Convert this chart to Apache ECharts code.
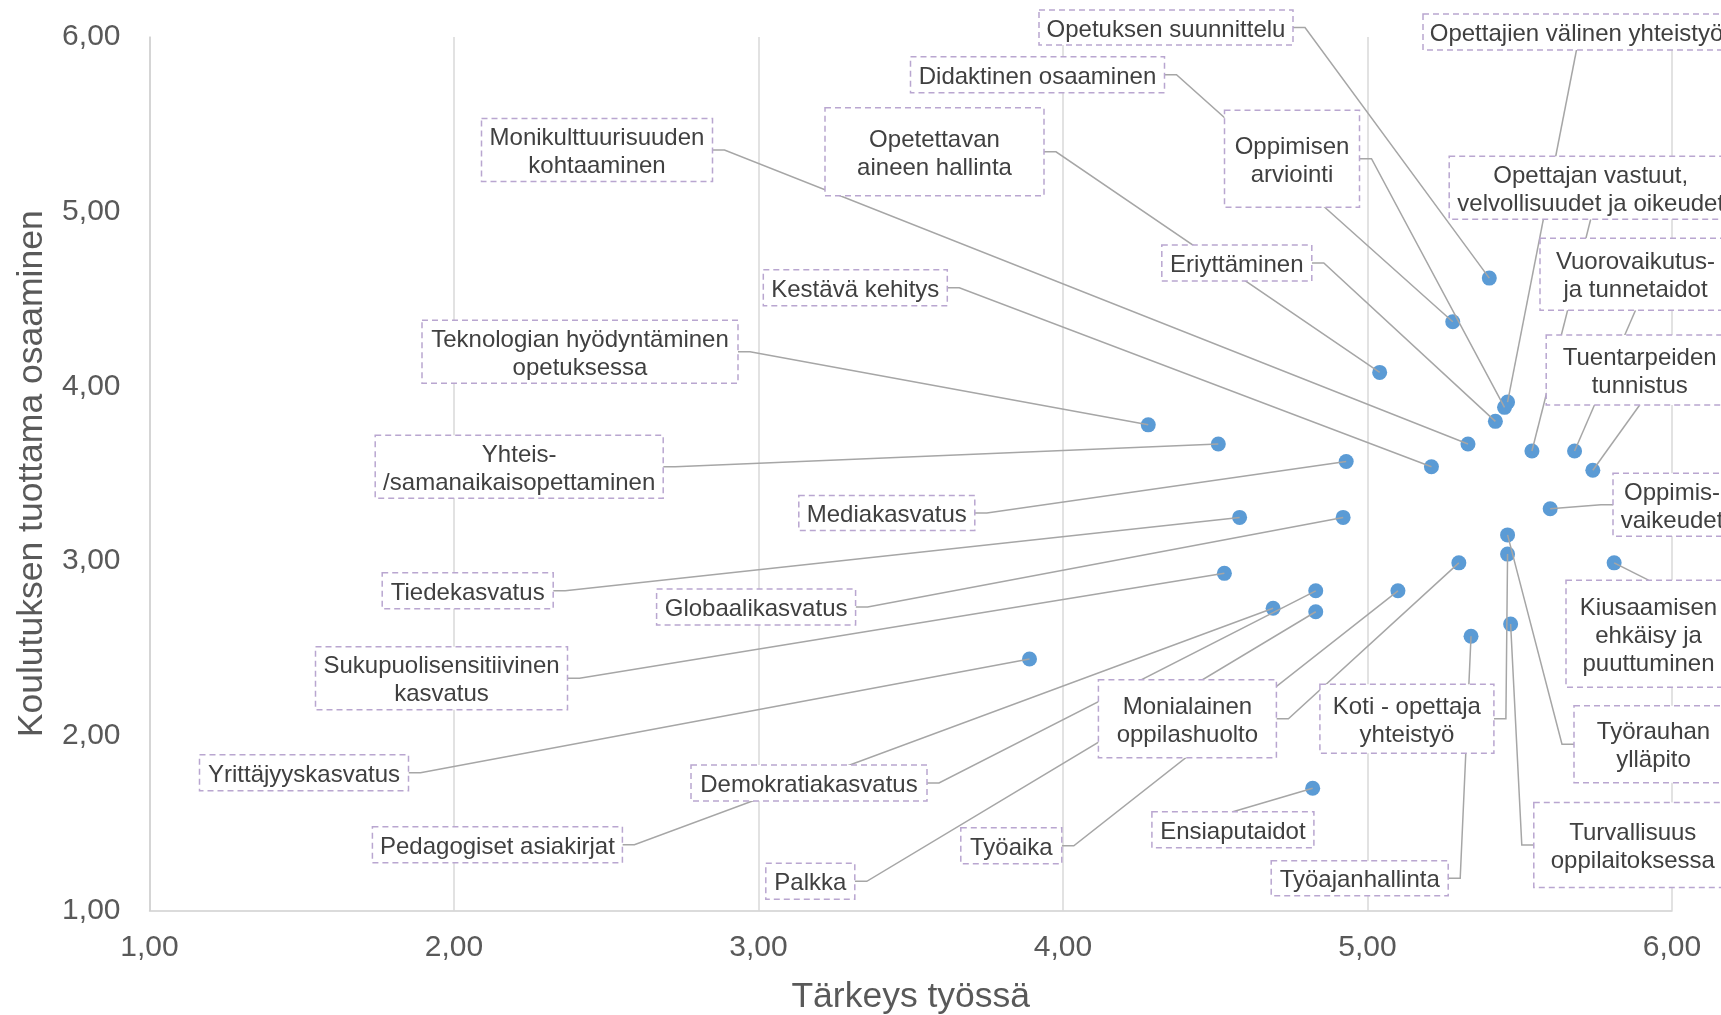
<!DOCTYPE html>
<html>
<head>
<meta charset="utf-8">
<script src="https://cdn.jsdelivr.net/npm/echarts@6/dist/echarts.min.js"></script>
<style>
html,body{margin:0;padding:0;background:#fff;}
#chart{width:1721px;height:1015px;}
</style>
</head>
<body>
<div id="chart"></div>
<script>
// ---- data ----
const categories = [
  'Opetuksen suunnittelu',
  'Opettajien välinen yhteistyö',
  'Didaktinen osaaminen',
  'Monikulttuurisuuden\nkohtaaminen',
  'Opetettavan\naineen hallinta',
  'Oppimisen\narviointi',
  'Opettajan vastuut,\nvelvollisuudet ja oikeudet',
  'Eriyttäminen',
  'Vuorovaikutus-\nja tunnetaidot',
  'Kestävä kehitys',
  'Teknologian hyödyntäminen\nopetuksessa',
  'Tuentarpeiden\ntunnistus',
  'Yhteis-\n/samanaikaisopettaminen',
  'Mediakasvatus',
  'Oppimis-\nvaikeudet',
  'Tiedekasvatus',
  'Globaalikasvatus',
  'Kiusaamisen\nehkäisy ja\npuuttuminen',
  'Sukupuolisensitiivinen\nkasvatus',
  'Monialainen\noppilashuolto',
  'Koti - opettaja\nyhteistyö',
  'Työrauhan\nylläpito',
  'Yrittäjyyskasvatus',
  'Demokratiakasvatus',
  'Pedagogiset asiakirjat',
  'Työaika',
  'Palkka',
  'Ensiaputaidot',
  'Turvallisuus\noppilaitoksessa',
  'Työajanhallinta'
];
// Tärkeys työssä
const importance = [5.40, 5.46, 5.28, 5.33, 5.04, 5.45, 5.54, 5.42, 5.68, 5.21,
                    4.28, 5.74, 4.51, 4.93, 5.60, 4.58, 4.92, 5.81, 4.53, 5.30,
                    5.46, 5.46, 3.89, 4.83, 4.69, 5.10, 4.83, 4.82, 5.47, 5.34];
// Koulutuksen tuottama osaaminen
const competence = [4.62, 3.91, 4.37, 3.67, 4.08, 3.88, 3.63, 3.80, 3.63, 3.54,
                    3.78, 3.52, 3.67, 3.57, 3.30, 3.25, 3.25, 2.99, 2.93, 2.99,
                    3.04, 3.15, 2.44, 2.83, 2.73, 2.83, 2.71, 1.70, 2.64, 2.57];
const xTicks = [1, 2, 3, 4, 5, 6];
const yTicks = [1, 2, 3, 4, 5, 6];

// ---- label box layout (pixel centre x, centre y, width, height) ----
const labelBoxes = [
  [1166, 27.5, 254, 35], [1576.5, 32, 307, 36], [1037.5, 74.7, 254, 36],
  [597, 150, 231, 63], [934.5, 151.8, 219, 88], [1292, 158.7, 135, 97],
  [1590.7, 187.7, 283, 63], [1236.8, 263, 150, 36], [1635.5, 274.2, 191, 72],
  [855.3, 287.8, 184, 36], [580, 351.7, 316, 63], [1639.7, 370, 187, 70],
  [519.2, 466.7, 288, 63], [886.8, 513, 176, 35], [1672, 504.7, 118, 63],
  [467.7, 590.8, 171, 36], [756.1, 607, 199, 36], [1648.5, 633.7, 165, 107],
  [441.5, 678.3, 252, 63], [1187.4, 718.8, 178, 78], [1406.9, 718.7, 174, 69],
  [1653.5, 744.2, 159, 77], [304, 772.8, 209, 36], [809, 783, 236, 36],
  [497.4, 844.7, 250, 36], [1011.3, 845.8, 101, 36], [810.3, 881.3, 89, 36],
  [1232.9, 829.7, 162, 36], [1632.8, 845, 198, 85], [1359.7, 878.3, 177, 35]
];

const points = importance.map((x, i) => [x, competence[i]]);
const fmt = v => v.toFixed(2).replace('.', ',');
const FONT = '"Liberation Sans", Arial, sans-serif';

const chart = echarts.init(document.getElementById('chart'), null, {renderer: 'canvas'});

chart.setOption({
  backgroundColor: '#ffffff',
  animation: false,
  grid: {left: 149.5, right: 49, top: 37, bottom: 104.5, containLabel: false, outerBoundsMode: 'none'},
  xAxis: {
    type: 'value', min: xTicks[0], max: xTicks[xTicks.length - 1], interval: 1,
    name: 'Tärkeys työssä', nameLocation: 'middle', nameGap: 69,
    nameTextStyle: {fontSize: 35.5, color: '#595959', fontFamily: FONT},
    axisLine: {show: true, lineStyle: {color: '#d0d0d0', width: 1.5}},
    axisTick: {show: false},
    axisLabel: {formatter: fmt, fontSize: 30, color: '#595959', fontFamily: FONT, margin: 22},
    splitLine: {show: true, lineStyle: {color: '#d9d9d9', width: 1.5}}
  },
  yAxis: {
    type: 'value', min: yTicks[0], max: yTicks[yTicks.length - 1], interval: 1,
    name: 'Koulutuksen tuottama osaaminen', nameLocation: 'middle', nameGap: 99,
    nameTextStyle: {fontSize: 35.5, color: '#595959', fontFamily: FONT},
    axisLine: {show: true, lineStyle: {color: '#d0d0d0', width: 1.5}},
    axisTick: {show: false},
    axisLabel: {formatter: fmt, fontSize: 30, color: '#595959', fontFamily: FONT, margin: 29,
                padding: [9, 0, 0, 0]},
    splitLine: {show: false}
  },
  series: [
    {
      type: 'scatter',
      z: 2,
      data: points,
      symbol: 'circle',
      symbolSize: 15,
      itemStyle: {color: '#5b9bd5', opacity: 1},
      silent: true
    },
    {
      // leader lines
      type: 'custom',
      z: 3,
      clip: false,
      silent: true,
      data: points,
      encode: {x: 0, y: 1},
      renderItem: function (params, api) {
        const i = params.dataIndex;
        const p = api.coord([api.value(0), api.value(1)]);
        const b = labelBoxes[i];
        const x1 = b[0] - b[2] / 2, x2 = b[0] + b[2] / 2;
        const y1 = b[1] - b[3] / 2, y2 = b[1] + b[3] / 2;
        let pts;
        if (p[0] >= x1 && p[0] <= x2) {
          pts = [[b[0], p[1] < y1 ? y1 : y2], p];
        } else if (p[0] > x2) {
          pts = [[x2, b[1]], [x2 + 12, b[1]], p];
        } else {
          pts = [[x1, b[1]], [x1 - 12, b[1]], p];
        }
        return {
          type: 'polyline',
          shape: {points: pts},
          style: {stroke: '#a6a6a6', lineWidth: 1.5, fill: null}
        };
      }
    },
    {
      // label boxes
      type: 'custom',
      z: 4,
      clip: false,
      silent: true,
      data: points,
      encode: {x: 0, y: 1},
      renderItem: function (params, api) {
        const i = params.dataIndex;
        const b = labelBoxes[i];
        return {
          type: 'group',
          children: [
            {
              type: 'rect',
              shape: {x: b[0] - b[2] / 2, y: b[1] - b[3] / 2, width: b[2], height: b[3]},
              style: {fill: '#ffffff', stroke: '#b9a6d0', lineWidth: 1.5, lineDash: [6, 4]}
            },
            {
              type: 'text',
              style: {
                text: categories[i], x: b[0], y: b[1] + 2.5,
                align: 'center', verticalAlign: 'middle',
                font: '24px ' + FONT, lineHeight: 28, fill: '#404040'
              }
            }
          ]
        };
      }
    }
  ]
});
</script>
</body>
</html>
